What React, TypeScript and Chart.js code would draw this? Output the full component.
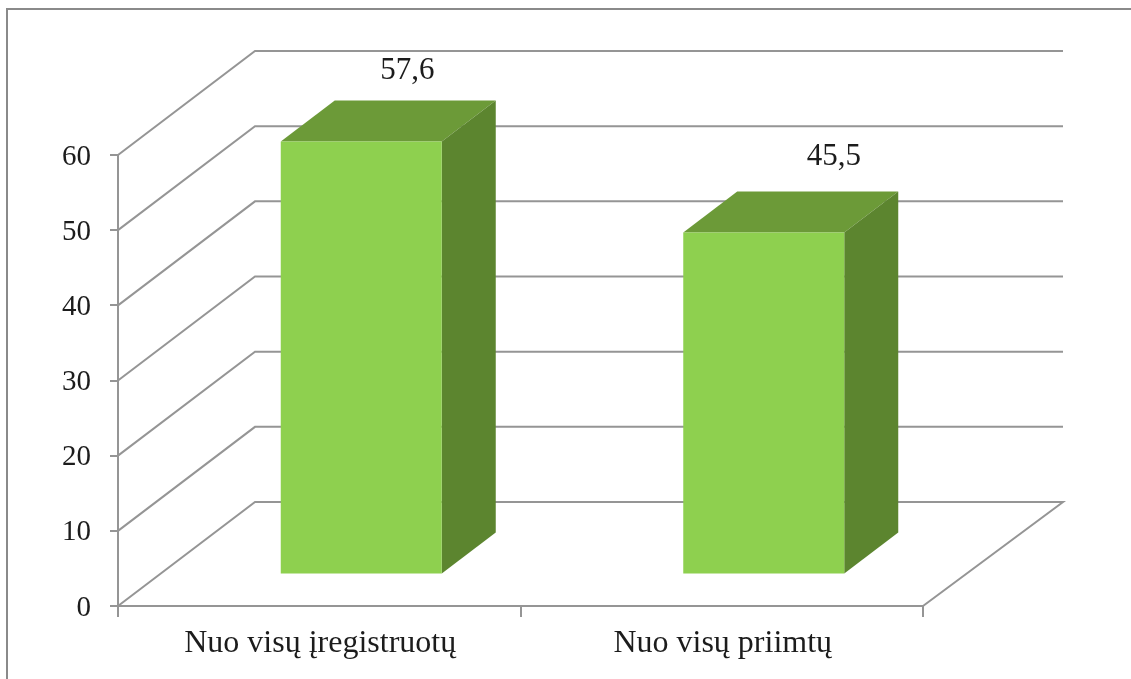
import React, { useEffect, useRef } from "react";
import { Chart, registerables } from "chart.js";

Chart.register(...registerables);

const categories = ["Nuo visų įregistruotų", "Nuo visų priimtų"];
const values = [57.6, 45.5];
const valueLabels = ["57,6", "45,5"];
const yMax = 60;
const yStep = 10;

const FONT = "'Liberation Serif', serif";
const INK = "#1c1c1c";
const GRID = "#959595";
const FRONT = "#8ed04f";
const TOP = "#6c9a38";
const SIDE = "#5c852f";

// projection of the depth axis
const WALL_DX_LEFT = 137;
const WALL_DX_RIGHT = 140;
const WALL_DY = -104;
const BAR_DX = 42;
const BAR_DY = -31.5;
const DEPTH_DX = 54;
const DEPTH_DY = -41;
const LABEL_NUDGE = [
  { dx: 88, dy: -94 },
  { dx: 112, dy: -99 },
];

const threeD = {
  id: "threeD",
  beforeDraw(chart: any) {
    const { ctx, width, height } = chart;
    ctx.save();
    ctx.fillStyle = "#ffffff";
    ctx.fillRect(0, 0, width, height);
    ctx.strokeStyle = "#8a8a8a";
    ctx.lineWidth = 2;
    ctx.beginPath();
    ctx.moveTo(7, height);
    ctx.lineTo(7, 9);
    ctx.lineTo(width, 9);
    ctx.stroke();
    ctx.restore();
  },
  beforeDatasetsDraw(chart: any) {
    const { ctx, chartArea: a, scales } = chart;
    const y = scales.y;
    ctx.save();
    ctx.strokeStyle = GRID;
    ctx.lineWidth = 2;
    y.ticks.forEach((t: any) => {
      const py = y.getPixelForValue(t.value);
      ctx.beginPath();
      ctx.moveTo(a.left, py);
      ctx.lineTo(a.left + WALL_DX_LEFT, py + WALL_DY);
      ctx.lineTo(a.right + WALL_DX_RIGHT, py + WALL_DY);
      if (t.value === 0) {
        ctx.lineTo(a.right, py);
      }
      ctx.stroke();
    });
    ctx.restore();
  },
  beforeDatasetDraw(chart: any) {
    const { ctx } = chart;
    const meta = chart.getDatasetMeta(0);
    ctx.save();
    meta.data.forEach((bar: any) => {
      const p = bar.getProps(["x", "y", "base", "width"], true);
      const l = p.x - p.width / 2 + BAR_DX;
      const r = p.x + p.width / 2 + BAR_DX;
      const t = p.y + BAR_DY;
      const b = p.base + BAR_DY;
      ctx.fillStyle = TOP;
      ctx.beginPath();
      ctx.moveTo(l, t);
      ctx.lineTo(l + DEPTH_DX, t + DEPTH_DY);
      ctx.lineTo(r + DEPTH_DX, t + DEPTH_DY);
      ctx.lineTo(r, t);
      ctx.closePath();
      ctx.fill();
      ctx.fillStyle = SIDE;
      ctx.beginPath();
      ctx.moveTo(r, t);
      ctx.lineTo(r + DEPTH_DX, t + DEPTH_DY);
      ctx.lineTo(r + DEPTH_DX, b + DEPTH_DY);
      ctx.lineTo(r, b);
      ctx.closePath();
      ctx.fill();
    });
    ctx.restore();
    // the library's own front faces sit mid-way along the depth axis
    ctx.save();
    ctx.translate(BAR_DX, BAR_DY);
  },
  afterDatasetDraw(chart: any) {
    chart.ctx.restore();
  },
  afterDatasetsDraw(chart: any) {
    const { ctx } = chart;
    const meta = chart.getDatasetMeta(0);
    ctx.save();
    ctx.fillStyle = INK;
    ctx.font = `31px ${FONT}`;
    ctx.textAlign = "center";
    ctx.textBaseline = "alphabetic";
    meta.data.forEach((bar: any, i: number) => {
      const p = bar.getProps(["x", "y"], true);
      ctx.fillText(valueLabels[i], p.x + LABEL_NUDGE[i].dx, p.y + LABEL_NUDGE[i].dy);
    });
    ctx.restore();
  },
};

export default function App() {
  const ref = useRef<HTMLCanvasElement>(null);
  useEffect(() => {
    const chart = new Chart(ref.current as HTMLCanvasElement, {
      type: "bar",
      data: {
        labels: categories,
        datasets: [
          {
            data: values,
            backgroundColor: FRONT,
            borderWidth: 0,
            barPercentage: 1,
            categoryPercentage: 0.4,
          },
        ],
      },
      options: {
        animation: false,
        responsive: false,
        devicePixelRatio: 1,
        layout: { padding: { left: 0, right: 1131 - 923, top: 155, bottom: 0 } },
        plugins: { legend: { display: false }, tooltip: { enabled: false } },
        scales: {
          x: {
            grid: {
              drawOnChartArea: false,
              drawTicks: true,
              tickLength: 11,
              color: GRID,
              lineWidth: 2,
            },
            border: { color: GRID, width: 2 },
            afterFit(s: any) {
              s.height = 73;
            },
            ticks: {
              color: INK,
              font: { family: FONT, size: 32 },
              padding: 7,
              maxRotation: 0,
              labelOffset: 1,
            },
          },
          y: {
            min: 0,
            max: yMax,
            grid: {
              drawOnChartArea: false,
              drawTicks: true,
              tickLength: 8,
              color: GRID,
              lineWidth: 2,
            },
            border: { color: GRID, width: 2 },
            afterFit(s: any) {
              s.width = 118;
            },
            ticks: {
              stepSize: yStep,
              color: INK,
              font: { family: FONT, size: 29 },
              padding: 19,
              labelOffset: 2,
            },
          },
        },
      },
      plugins: [threeD],
    });
    return () => chart.destroy();
  }, []);
  return (
    <canvas
      ref={ref}
      width={1131}
      height={679}
      style={{ position: "fixed", left: 0, top: 0, width: 1131, height: 679, display: "block" }}
    />
  );
}
